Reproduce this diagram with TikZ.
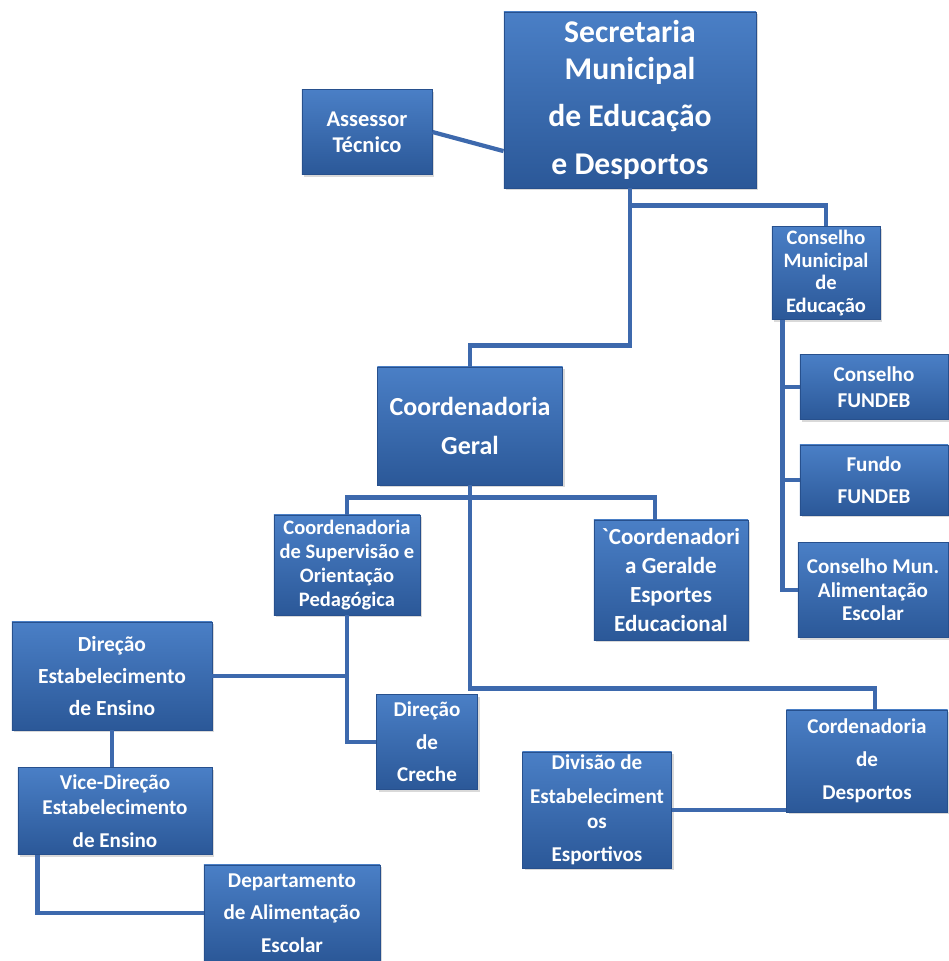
\documentclass[tikz,border=0pt]{standalone}
\usepackage{fontspec}
\setmainfont{Carlito}
\usetikzlibrary{shadows}

\definecolor{boxtop}{HTML}{4A7FC6}
\definecolor{boxbot}{HTML}{2B5898}
\definecolor{boxedge}{HTML}{27508D}
\definecolor{linkblue}{HTML}{3D69AD}

\tikzset{
  orgbox/.style={top color=boxtop, bottom color=boxbot, draw=boxedge, line width=0.6pt,
    text=white, font=\bfseries\fontsize{15}{17.5}\selectfont, align=center, inner sep=0pt,
    drop shadow={opacity=0.3, shadow xshift=0.06cm, shadow yshift=-0.06cm}},
  link/.style={draw=linkblue, line width=3pt},
}

\begin{document}
\begin{tikzpicture}[x=0.025cm, y=-0.025cm]

        \useasboundingbox (0,0) rectangle (948,961);

        % boxes
        \node[orgbox, minimum width=6.3cm, minimum height=4.4cm, font=\bfseries\fontsize{22.5}{26}\selectfont] (sec) at (630,100)
        {Secretaria\\Municipal\\[8pt] de Educação\\[8pt]e Desportos};
        \node[orgbox, minimum width=3.25cm, minimum height=2.125cm, font=\bfseries\fontsize{16}{18.5}\selectfont] (assessor) at (367,132)
        {Assessor\\Técnico};
        \node[orgbox, minimum width=2.7cm, minimum height=2.325cm, font=\bfseries\fontsize{14.6}{16.3}\selectfont] (cme) at (826,273)
        {Conselho\\Municipal\\de\\Educação};
        \node[orgbox, minimum width=4.625cm, minimum height=2.95cm, font=\bfseries\fontsize{18.5}{27.5}\selectfont] (geral) at (470,426)
        {Coordenadoria\\Geral};
        \node[orgbox, minimum width=3.7cm, minimum height=1.625cm, font=\bfseries\fontsize{15}{18.4}\selectfont] (cfundeb) at (874,387)
        {Conselho\\FUNDEB};
        \node[orgbox, minimum width=3.7cm, minimum height=1.75cm, font=\bfseries\fontsize{15}{22.7}\selectfont] (ffundeb) at (874,480)
        {Fundo\\FUNDEB};
        \node[orgbox, minimum width=3.75cm, minimum height=2.375cm, font=\bfseries\fontsize{15}{16.7}\selectfont] (cae) at (873,590)
        {Conselho Mun.\\Alimentação\\Escolar};
        \node[orgbox, minimum width=3.65cm, minimum height=2.5cm, font=\bfseries\fontsize{14.6}{17}\selectfont] (superv) at (347,565)
        {Coordenadoria\\de Supervisão e\\Orientação\\Pedagógica};
        \node[orgbox, minimum width=3.85cm, minimum height=3cm, font=\bfseries\fontsize{16.4}{20.5}\selectfont] (esport) at (671,580)
        {\textasciigrave Coordenadori\\a Geralde\\Esportes\\Educacional};
        \node[orgbox, minimum width=5cm, minimum height=2.7cm, font=\bfseries\fontsize{15.3}{23}\selectfont] (direcao) at (112,676)
        {Direção\\Estabelecimento\\de Ensino};
        \node[orgbox, minimum width=2.525cm, minimum height=2.375cm, font=\bfseries\fontsize{15}{23}\selectfont] (creche) at (427,742)
        {Direção\\de\\Creche};
        \node[orgbox, minimum width=4.025cm, minimum height=2.55cm, font=\bfseries\fontsize{15}{23.4}\selectfont] (desp) at (867,761)
        {Cordenadoria\\de\\Desportos};
        \node[orgbox, minimum width=3.725cm, minimum height=2.9cm] (divisao) at (597,810)
        {Divisão de\\[6.5pt]Estabeleciment\\os\\[6.5pt]Esportivos};
        \node[orgbox, minimum width=4.85cm, minimum height=2.175cm] (vice) at (115,811)
        {Vice-Direção\\Estabelecimento\\[6pt]de Ensino};
        \node[orgbox, minimum width=4.4cm, minimum height=2.4cm, font=\bfseries\fontsize{15}{23}\selectfont] (depto) at (292,913)
        {Departamento\\de Alimentação\\Escolar};

        % connectors
        \draw[link] (assessor.east) -- (sec.202);
        \draw[link] (sec.south) -- ++(0,157) -| (geral.north);
        \draw[link] (sec.south) ++(0,17) -| (cme.north);
        \draw[link] ([xshift=0.275cm]cme.south west) |- (cfundeb.west);
        \draw[link] ([xshift=0.275cm]cme.south west) |- (ffundeb.west);
        \draw[link] ([xshift=0.275cm]cme.south west) |- (cae.west);
        \draw[link] (geral.south) -- ++(0,12) -| (superv.north);
        \draw[link] (geral.south) -- ++(0,12) -| ([xshift=-0.4cm]esport.north);
        \draw[link] (geral.south) -- ++(0,203) -| ([xshift=0.2cm]desp.north);
        \draw[link] (superv.south) |- (creche.west);
        \draw[link] (direcao.east) -- (direcao.east -| superv.south);
        \draw[link] (direcao.south) -- (direcao.south |- vice.north);
        \draw[link] ([xshift=0.5cm]vice.south west) |- (depto.west);
        \draw[link] (divisao.east) -- (divisao.east -| desp.west);
    \end{tikzpicture}
\end{document}
